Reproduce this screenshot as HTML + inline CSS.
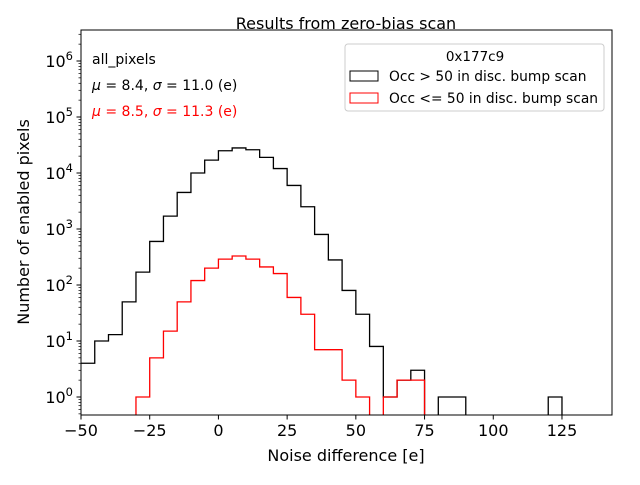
<!DOCTYPE html>
<html><head><meta charset="utf-8"><style>
body{margin:0;background:#fff}
svg text{font-family:"DejaVu Sans","Liberation Sans",sans-serif}
</style></head><body>
<svg id="c" width="640" height="480" xmlns="http://www.w3.org/2000/svg">
<rect width="640" height="480" fill="#fff"/>
<g id="plot"></g>
</svg>
<script>
const binEdgesStart = -50;
const binWidth = 5;
const blackCounts = [4,10,13,50,170,600,1700,4500,10000,17000,25000,28000,26000,19000,12000,6000,2500,800,280,80,30,8,1,2,3,0,1,1,0,0,0,0,0,0,1];
const redCounts = [0,0,0,0,1,5,15,50,120,200,290,330,290,210,160,60,30,7,7,2,1,0,1,2,2];
const xTicks = [-50,-25,0,25,50,75,100,125];
const xTickLabels = ["\u221250","\u221225","0","25","50","75","100","125"];
const yTickExps = [0,1,2,3,4,5,6];

const L=81,R=612,T=30,B=415;
const xmin=-50,xmax=143.2;
const X=v=>L+(v-xmin)/(xmax-xmin)*(R-L);
const Y=v=>397-56*Math.log10(v);
const NS="http://www.w3.org/2000/svg";
const g=document.getElementById('plot');
function mk(tag,attrs,parent){const e=document.createElementNS(NS,tag);for(const k in attrs)e.setAttribute(k,attrs[k]);(parent||g).appendChild(e);return e;}

const defs=mk('defs',{});const cp=mk('clipPath',{id:'clip'},defs);mk('rect',{x:L,y:T,width:R-L,height:B-T},cp);

function stepPath(counts){
  let d='';
  for(let i=0;i<counts.length;i++){
    const x0=X(binEdgesStart+i*binWidth),x1=X(binEdgesStart+(i+1)*binWidth);
    const y=counts[i]>0?Y(counts[i]):B+5;
    if(i===0)d+=`M${x0},${y}`;else d+=`L${x0},${y}`;
    d+=`L${x1},${y}`;
  }
  const xe=X(binEdgesStart+counts.length*binWidth);
  d+=`L${xe},${B+5}`;
  return d;
}
const hb=mk('path',{d:stepPath(blackCounts),fill:'none',stroke:'#000','stroke-width':1.3,'clip-path':'url(#clip)'});


const hr=mk('path',{d:stepPath(redCounts),fill:'none',stroke:'#f00','stroke-width':1.3,'clip-path':'url(#clip)'});



const fr=mk('rect',{x:L,y:T,width:R-L,height:B-T,fill:'none',stroke:'#000','stroke-width':1});



xTicks.forEach((v,i)=>{
  const x=X(v);
  mk('line',{x1:x,x2:x,y1:B,y2:B+4.5,stroke:'#000'});
  const t=mk('text',{x:x,y:B+21,'font-size':16,'text-anchor':'middle'});t.textContent=xTickLabels[i];
  
  
});
yTickExps.forEach(e=>{
  const y=Y(Math.pow(10,e));
  mk('line',{x1:L-4.5,x2:L,y1:y,y2:y,stroke:'#000'});
  const t=mk('text',{x:L-8,y:y+6,'font-size':16,'text-anchor':'end'});
  t.innerHTML='10<tspan dy="-7" font-size="11.5">'+e+'</tspan>';
  
  
  for(let m=2;m<10;m++){const ym=Y(m*Math.pow(10,e));if(ym>T&&ym<B)mk('line',{x1:L-2.5,x2:L,y1:ym,y2:ym,stroke:'#000','stroke-width':0.7});}
});
for(let m=5;m<10;m++){const ym=Y(m/10);if(ym<B)mk('line',{x1:L-2.5,x2:L,y1:ym,y2:ym,stroke:'#000','stroke-width':0.7});}
</script>
<svg style="position:absolute;left:0;top:0" width="640" height="480" xmlns="http://www.w3.org/2000/svg">
<text x="346" y="29" font-size="16" text-anchor="middle" font-family="DejaVu Sans,sans-serif">Results from zero-bias scan</text>
<text x="346" y="461" font-size="16" text-anchor="middle" font-family="DejaVu Sans,sans-serif">Noise difference [e]</text>
<text transform="translate(29,222) rotate(-90)" font-size="16" text-anchor="middle" font-family="DejaVu Sans,sans-serif">Number of enabled pixels</text>
<text x="92" y="64" font-size="14" font-family="DejaVu Sans,sans-serif">all_pixels</text>
<text x="92" y="90" font-size="14" font-family="DejaVu Sans,sans-serif"><tspan font-style="italic">μ</tspan> = 8.4, <tspan font-style="italic">σ</tspan> = 11.0 (e)</text>
<text x="92" y="116" font-size="14" fill="#f00" font-family="DejaVu Sans,sans-serif"><tspan font-style="italic">μ</tspan> = 8.5, <tspan font-style="italic">σ</tspan> = 11.3 (e)</text>
<g font-family="DejaVu Sans,sans-serif">
<rect x="345" y="44" width="259" height="67" rx="3" fill="#fff" stroke="#ccc"/>
<text x="475" y="61" font-size="13.5" text-anchor="middle">0x177c9</text>
<rect x="350" y="71" width="28" height="10" fill="none" stroke="#000"/>
<text x="389" y="81" font-size="13.8">Occ &gt; 50 in disc. bump scan</text>
<rect x="350" y="93" width="28" height="10" fill="none" stroke="#f00"/>
<text x="389" y="103" font-size="13.8">Occ &lt;= 50 in disc. bump scan</text>
</g>
</svg>
</body></html>
